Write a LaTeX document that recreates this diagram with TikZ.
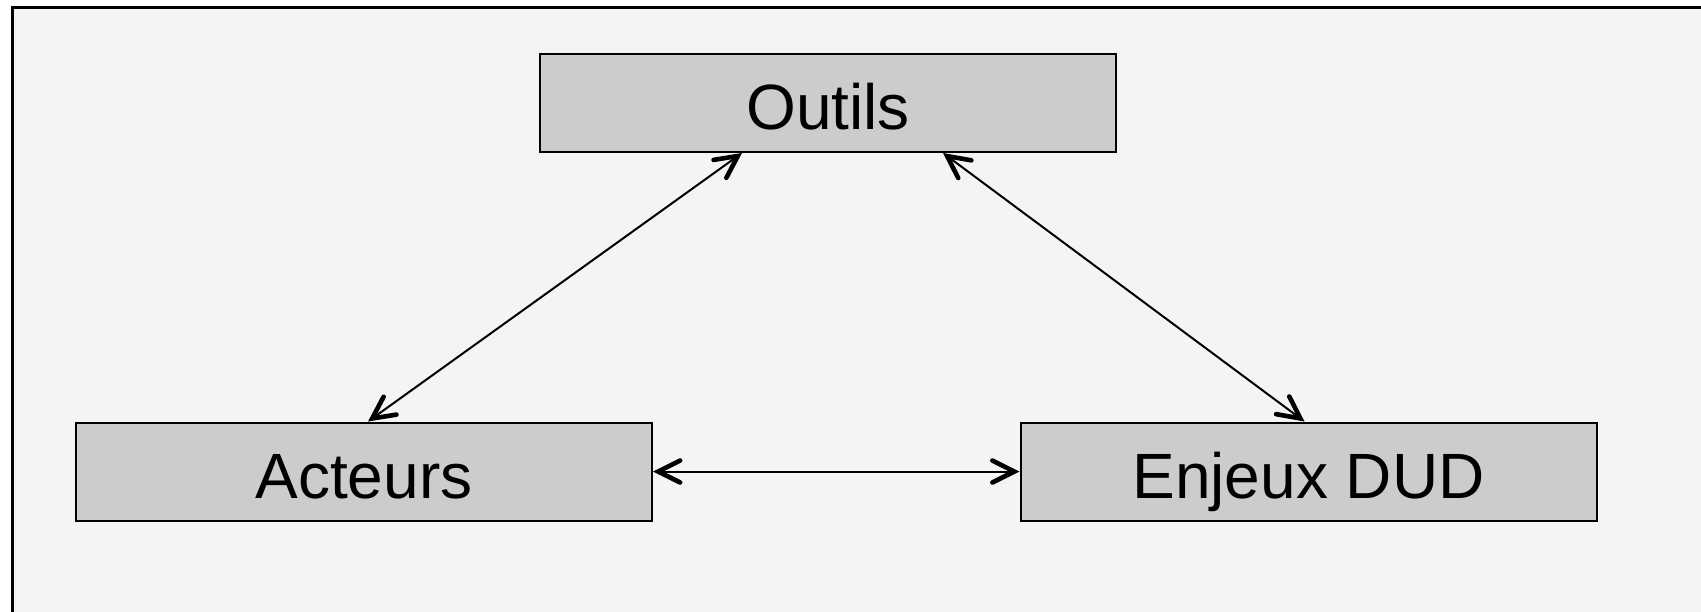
\documentclass[tikz,border=0pt]{standalone}
\usepackage{fontspec}
\setmainfont{Liberation Sans}
\usetikzlibrary{arrows.meta}
\begin{document}
\begin{tikzpicture}[x=0.5pt,y=-0.5pt,
  box/.style={draw=black, line width=1pt, fill=boxgray, minimum width=288pt, minimum height=49pt, inner sep=0pt,
    text height=30pt, text depth=3.2pt, font=\fontsize{32}{36}\selectfont},
  tipb/.tip={Straight Barb[length=11pt,width=11pt,line width=2.3pt,line cap=round]},
  link/.style={line width=1pt, tipb-tipb}]
\definecolor{boxgray}{HTML}{CCCCCC}
\definecolor{bggray}{HTML}{F4F4F4}
\useasboundingbox (0,0) rectangle (1701,611);
\fill[white] (0,0) rectangle (1701,611);
\draw[line width=1.5pt, fill=bggray] (12.5,7.5) rectangle (1720,630);
\node[box] (outils) at (828,103) {Outils};
\node[box] (acteurs) at (364,471.5) {Acteurs};
\node[box] (enjeux) at (1308.5,471.5) {Enjeux DUD};
\draw[link] ([xshift=101.5pt]outils.south west) -- ([xshift=146.5pt]acteurs.north west);
\draw[link] ([xshift=202pt]outils.south west) -- ([xshift=142.5pt]enjeux.north west);
\draw[link] (acteurs.east) -- (enjeux.west);
\end{tikzpicture}
\end{document}
